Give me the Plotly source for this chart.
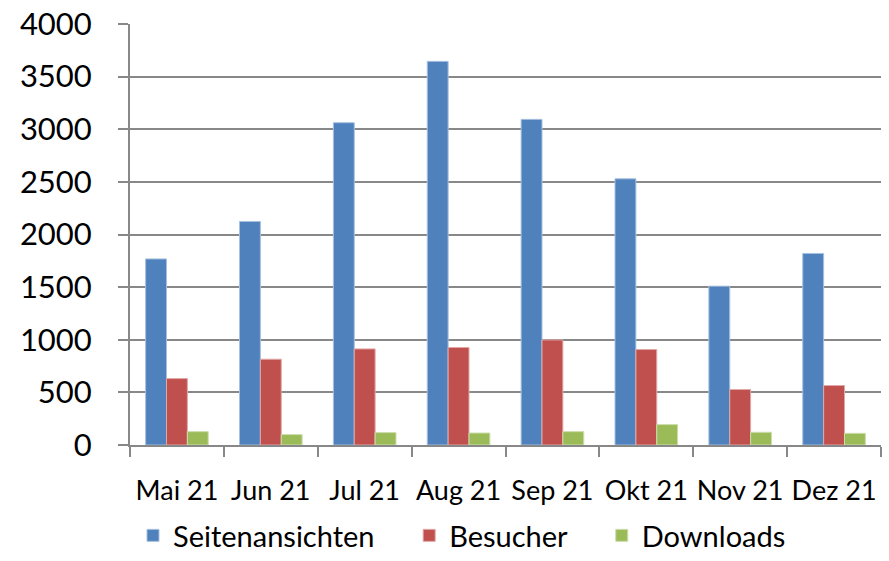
import plotly.graph_objects as go

# Monatswerte 2021
monate = ["Mai 21", "Jun 21", "Jul 21", "Aug 21", "Sep 21", "Okt 21", "Nov 21", "Dez 21"]
seitenansichten = [1768, 2124, 3062, 3645, 3094, 2529, 1509, 1820]
besucher = [631, 815, 913, 926, 998, 907, 527, 565]
downloads = [127, 99, 118, 114, 127, 194, 121, 111]

farben = {"Seitenansichten": "#4F81BD", "Besucher": "#C0504D", "Downloads": "#9BBB59"}
rahmen = {"Seitenansichten": "#A7C0DE", "Besucher": "#E0A8A6", "Downloads": "#CDDDAC"}

fig = go.Figure()
# trailing no-break spaces widen the gap between legend entries like in Excel
for name, werte, pad in [("Seitenansichten", seitenansichten, 4),
                         ("Besucher", besucher, 4),
                         ("Downloads", downloads, 0)]:
    fig.add_trace(go.Bar(
        x=monate, y=werte, name=name + "\u00a0" * pad,
        marker=dict(color=farben[name], line=dict(color=rahmen[name], width=1)),
    ))

fig.update_layout(
    width=889, height=561,
    margin=dict(l=130, r=8, t=24, b=116),
    plot_bgcolor="white", paper_bgcolor="white",
    barmode="group", bargap=0.333, bargroupgap=0,
    font=dict(family="Lato, Carlito, sans-serif", color="black"),
    legend=dict(orientation="h", xref="container", yref="container",
                x=0.1496, xanchor="left", y=-0.012, yanchor="bottom",
                font=dict(size=29), itemwidth=30, traceorder="normal"),
)

fig.update_xaxes(
    automargin=False, tickangle=0,
    showline=True, linecolor="#888888", linewidth=2,
    ticks="outside", tickson="boundaries", ticklen=10, tickwidth=2, tickcolor="#888888",
    tickfont=dict(size=27), ticklabelstandoff=21, showgrid=False,
)
fig.update_yaxes(
    automargin=False,
    range=[0, 4000], dtick=500,
    showline=True, linecolor="#888888", linewidth=2,
    ticks="outside", ticklen=10, tickwidth=2, tickcolor="#888888",
    tickfont=dict(size=31), ticklabelstandoff=20,
    showgrid=True, gridcolor="#888888", gridwidth=2, zeroline=False,
)

# drop the default 8px body margin so the figure fills the window exactly
fig.write_html("out.html", config={"displayModeBar": False},
               post_script="document.body.style.margin='0';")
